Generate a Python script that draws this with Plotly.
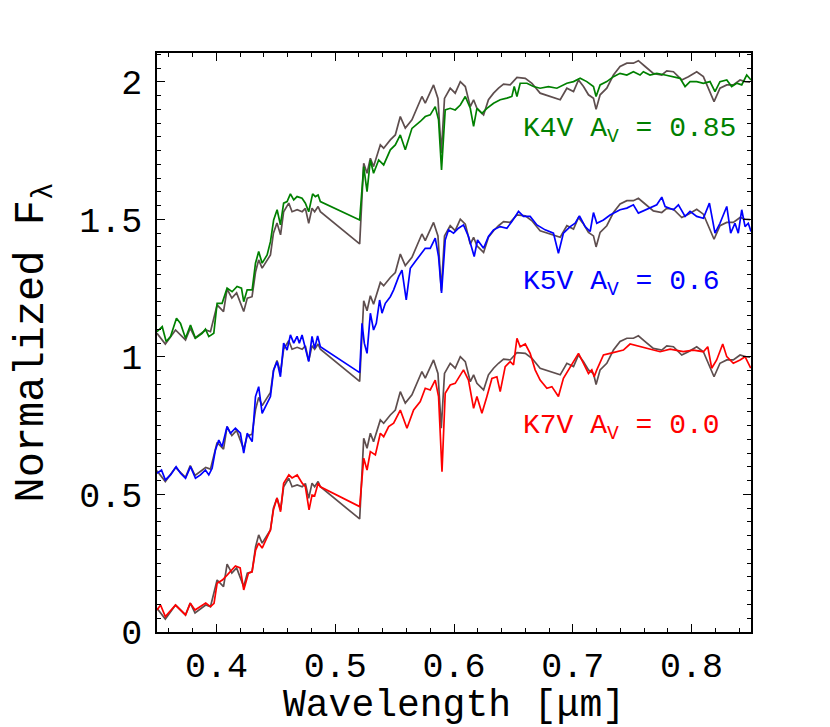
import plotly.graph_objects as go

# ---------------- data ----------------
# template spectrum (grey), drawn three times with vertical offsets
template_wl = [0.350,0.357,0.3656,0.374,0.378,0.382,0.391,0.395,0.4006,0.406,0.409,0.413,0.417,0.423,0.426,
               0.430,0.433,0.4356,0.4385,0.4455,0.448,0.451,0.454,0.4566,0.4609,0.4637,0.468,0.4722,0.4749,
               0.4777,0.4805,0.4827,0.4856,0.4875,
               0.5206,0.524,0.5268,0.5296,0.5323,0.538,0.5408,0.5464,0.5506,0.5548,0.559,0.5646,0.573,0.5758,
               0.5828,0.5865,0.5893,0.592,0.5968,0.601,0.6053,0.6095,0.6137,0.6165,0.6193,0.6249,0.629,0.6333,
               0.6375,0.6417,0.6473,0.653,0.66,0.6656,0.6725,0.681,0.6894,0.695,0.7006,0.7048,0.709,0.7132,
               0.7174,0.7196,0.723,0.7286,0.7342,0.7398,0.7455,0.751,0.7552,0.7609,0.7678,0.7749,0.7791,0.7847,
               0.7917,0.7973,0.8043,0.8099,0.8155,0.8189,0.8239,0.8296,0.8351,0.8408,0.845,0.8492]
template_flux = [0.086,0.047,0.098,0.062,0.105,0.069,0.098,0.092,0.189,0.165,0.247,0.214,0.233,0.165,0.214,
                 0.219,0.31,0.353,0.323,0.371,0.45,0.487,0.444,0.528,0.559,0.528,0.535,0.528,0.54,
                 0.486,0.541,0.528,0.547,0.528,
                 0.411,0.704,0.668,0.7225,0.692,0.771,0.759,0.789,0.807,0.874,0.832,0.862,0.947,0.923,
                 0.989,0.94,0.741,0.94,0.977,0.959,1.001,0.983,0.91,0.935,0.904,0.88,0.935,0.959,
                 0.977,0.992,0.989,1.016,1.013,0.995,0.959,0.947,0.935,0.977,0.965,1.007,0.983,0.953,
                 0.94,0.9,0.953,0.977,1.025,1.056,1.068,1.068,1.077,1.056,1.031,1.025,1.04,1.037,
                 1.007,1.019,1.037,1.019,0.965,0.928,0.977,0.989,0.989,1.007,1.001,0.999]
template_offsets = [0.0, 0.5, 1.0]   # K7V, K5V, K4V

k7v_wl = [0.350,0.353,0.357,0.3656,0.374,0.378,0.382,0.391,0.395,0.398,0.4006,0.405,0.409,0.416,0.420,0.423,
          0.427,0.430,0.433,0.4356,0.4385,0.4455,0.448,0.451,0.454,0.4566,0.461,0.4637,0.468,0.4722,0.4749,
          0.478,0.4805,0.4827,0.4856,0.4875,
          0.5206,0.524,0.5268,0.5296,0.5338,0.538,0.5408,0.545,0.5492,0.5548,0.5604,0.566,0.5716,0.5758,0.58,
          0.5842,0.587,0.5899,0.5926,0.5968,0.601,0.608,0.6122,0.6165,0.6193,0.6235,0.6277,0.6319,0.6361,
          0.6389,0.6431,0.6473,0.6501,0.653,0.6557,0.66,0.6641,0.6683,0.6725,0.6782,0.6824,0.6879,0.6921,
          0.6978,0.7048,0.709,0.7132,0.716,0.718,0.7202,0.7258,0.7314,0.737,0.7426,0.7482,0.7539,0.7735,
          0.7819,0.793,0.8015,0.8099,0.8136,0.8169,0.8211,0.8262,0.8296,0.8351,0.8408,0.845,0.8498]
k7v_flux = [0.08,0.098,0.056,0.098,0.062,0.105,0.08,0.105,0.092,0.104,0.177,0.189,0.207,0.24,0.233,0.153,
            0.214,0.219,0.298,0.323,0.305,0.371,0.444,0.487,0.4375,0.541,0.571,0.56,0.571,0.541,0.528,
            0.444,0.498,0.495,0.541,0.528,
            0.456,0.632,0.589,0.656,0.644,0.7225,0.71,0.747,0.759,0.807,0.741,0.807,0.838,0.886,0.88,
            0.916,0.856,0.583,0.868,0.898,0.904,0.953,0.916,0.813,0.856,0.795,0.856,0.922,0.928,
            0.874,0.965,0.983,0.971,1.068,1.037,1.047,1.013,0.953,0.916,0.886,0.892,0.856,0.922,
            0.965,1.013,0.977,0.94,0.953,0.928,0.953,1.007,1.013,1.019,1.025,1.047,1.041,1.019,
            1.028,1.019,1.025,1.019,1.037,0.959,0.989,1.047,1.001,0.977,0.989,1.001,0.959]

k5v_wl = [0.350,0.3538,0.357,0.3614,0.3661,0.3698,0.374,0.3782,0.3824,0.3866,0.3908,0.3936,0.3964,0.3992,
          0.402,0.4048,0.409,0.4118,0.416,0.4202,0.423,0.4259,0.4301,0.4329,0.4356,0.4385,0.4413,0.4455,
          0.4482,0.4511,0.4539,0.4566,0.4595,0.4623,0.4651,0.4679,0.4698,0.4721,0.4749,0.4777,0.4805,
          0.4827,0.4852,0.4875,
          0.5206,0.5226,0.5245,0.5268,0.5296,0.5323,0.5346,0.5374,0.5394,0.5422,0.5464,0.5492,0.5534,
          0.5562,0.5598,0.5632,0.5674,0.5716,0.5758,0.58,0.5842,0.587,0.5895,0.5926,0.5954,0.5996,0.6038,
          0.608,0.6122,0.617,0.6198,0.6249,0.629,0.6333,0.6389,0.6445,0.6487,0.6543,0.6585,0.6641,0.6698,
          0.6767,0.6837,0.6879,0.6921,0.6978,0.702,0.7056,0.7104,0.7146,0.7174,0.7202,0.7258,0.7314,
          0.7398,0.7455,0.751,0.7552,0.7707,0.7749,0.7777,0.7847,0.7889,0.7945,0.7987,0.8043,0.8099,
          0.815,0.8197,0.8239,0.8296,0.8329,0.8365,0.8393,0.8422,0.845,0.8477,0.85]
k5v_flux = [0.577,0.589,0.553,0.571,0.601,0.577,0.559,0.601,0.559,0.571,0.589,0.571,0.595,0.662,
            0.698,0.674,0.747,0.7225,0.741,0.7225,0.65,0.7225,0.692,0.856,0.892,0.795,0.819,0.856,
            0.953,0.983,0.928,1.05,1.025,1.08,1.05,1.075,1.05,1.08,1.031,0.983,1.075,
            1.031,1.076,1.037,
            0.943,1.122,1.05,1.013,1.159,1.098,1.122,1.207,1.159,1.195,1.219,1.244,1.292,
            1.316,1.207,1.322,1.347,1.371,1.395,1.395,1.432,1.365,1.233,1.425,1.462,1.45,1.468,
            1.48,1.438,1.365,1.425,1.395,1.438,1.462,1.474,1.468,1.492,1.529,1.511,1.511,1.48,
            1.462,1.45,1.377,1.45,1.474,1.486,1.513,1.474,1.456,1.525,1.486,1.498,1.516,
            1.535,1.541,1.553,1.523,1.553,1.581,1.547,1.535,1.553,1.511,1.529,1.511,1.504,
            1.559,1.45,1.486,1.547,1.45,1.486,1.45,1.535,1.474,1.486,1.456]

k4v_wl = [0.350,0.3544,0.3577,0.3614,0.3664,0.3698,0.374,0.3782,0.3824,0.388,0.3908,0.3936,0.3978,0.4006,
          0.4048,0.409,0.4132,0.4174,0.4211,0.423,0.4259,0.4301,0.4329,0.4356,0.4385,0.4427,0.4455,0.4482,
          0.4511,0.4539,0.4566,0.4595,0.4623,0.4651,0.4679,0.4721,0.4749,0.4777,0.481,0.4833,0.4856,0.4875,
          0.5206,0.524,0.5268,0.5296,0.5323,0.5366,0.5408,0.5464,0.5506,0.5548,0.559,0.5646,0.5716,0.5758,
          0.58,0.5842,0.587,0.5895,0.5926,0.5968,0.601,0.6053,0.6095,0.6137,0.6165,0.6193,0.6235,0.6277,
          0.6333,0.6389,0.6445,0.6487,0.6507,0.653,0.6557,0.6614,0.6669,0.6725,0.6795,0.6866,0.695,0.7006,
          0.7062,0.7118,0.7174,0.7196,0.723,0.7286,0.7342,0.7398,0.7455,0.751,0.7566,0.7594,0.765,0.7707,
          0.7777,0.7847,0.7903,0.7945,0.7987,0.8043,0.8099,0.8155,0.8197,0.8239,0.8296,0.8337,0.838,0.8422,
          0.8464,0.85]
k4v_flux = [1.092,1.11,1.056,1.074,1.141,1.122,1.068,1.116,1.068,1.086,1.101,1.074,1.086,1.195,
            1.195,1.25,1.237,1.256,1.25,1.201,1.244,1.244,1.341,1.383,1.341,1.371,1.419,1.498,
            1.535,1.48,1.559,1.565,1.593,1.571,1.583,1.577,1.559,1.528,1.593,1.583,1.589,1.565,
            1.498,1.692,1.601,1.716,1.668,1.716,1.698,1.753,1.771,1.807,1.753,1.831,1.856,1.874,
            1.88,1.91,1.862,1.68,1.898,1.904,1.898,1.916,1.947,1.904,1.838,1.904,1.886,1.904,
            1.922,1.935,1.941,1.947,1.983,1.947,1.995,1.995,1.983,1.977,1.983,1.977,1.995,2.001,
            2.013,2.001,1.983,1.947,1.989,2.001,2.019,2.031,2.025,2.037,2.025,2.037,2.025,2.031,
            2.025,2.019,2.013,1.983,2.001,2.001,1.995,2.001,1.965,2.001,2.007,1.983,1.995,1.989,
            2.025,2.007]

labels = ["K7V A<sub>V</sub> = 0.0", "K5V A<sub>V</sub> = 0.6", "K4V A<sub>V</sub> = 0.85"]
label_x = [0.6566, 0.6566, 0.6566]
label_y = [0.745, 1.268, 1.825]
colors = ["#ff0000", "#0000ff", "#008000"]
template_color = "#5e4e4e"

# ---------------- figure ----------------
FONT = "Courier New, Courier, Nimbus Mono PS, Liberation Mono, monospace"
fig = go.Figure()

stars = [(k7v_wl, k7v_flux), (k5v_wl, k5v_flux), (k4v_wl, k4v_flux)]
for i, (wl, fl) in enumerate(stars):
    off = template_offsets[i]
    fig.add_trace(go.Scatter(x=template_wl, y=[v + off for v in template_flux], mode="lines",
                             line=dict(color=template_color, width=1.7), showlegend=False,
                             hoverinfo="skip"))
    fig.add_trace(go.Scatter(x=wl, y=fl, mode="lines",
                             line=dict(color=colors[i], width=1.7), showlegend=False))
    fig.add_annotation(x=label_x[i], y=label_y[i], xref="x", yref="y", text=labels[i],
                       showarrow=False, xanchor="left", yanchor="middle",
                       font=dict(family=FONT, size=28, color=colors[i]))

axis_common = dict(showline=True, linecolor="black", linewidth=1.5, mirror="allticks",
                   ticks="inside", ticklen=8, tickwidth=1.3, tickcolor="black",
                   showgrid=False, zeroline=False,
                   tickfont=dict(family=FONT, size=35, color="black"))

fig.update_xaxes(range=[0.35, 0.85], tick0=0.4, dtick=0.1,
                 minor=dict(dtick=0.02, ticks="inside", ticklen=4, tickcolor="black", tickwidth=1.1),
                 title=dict(text="Wavelength [μm]", font=dict(family=FONT, size=38, color="black"),
                            standoff=2),
                 ticklabelstandoff=1, automargin=False, **axis_common)
fig.update_yaxes(range=[0, 2.105], tick0=0, dtick=0.5,
                 minor=dict(dtick=0.05, ticks="inside", ticklen=4, tickcolor="black", tickwidth=1.1),
                 title=dict(text="Normalized F<sub>λ</sub>", font=dict(family=FONT, size=42, color="black"),
                            standoff=28),
                 ticklabelstandoff=6, automargin=False, **axis_common)

# the page adds an 8px body margin, so the figure is 8px smaller and shifted
fig.update_layout(width=822, height=719, plot_bgcolor="white", paper_bgcolor="white",
                  margin=dict(l=148.5, r=78.5, t=45, b=95))

fig.write_html("out.html")
